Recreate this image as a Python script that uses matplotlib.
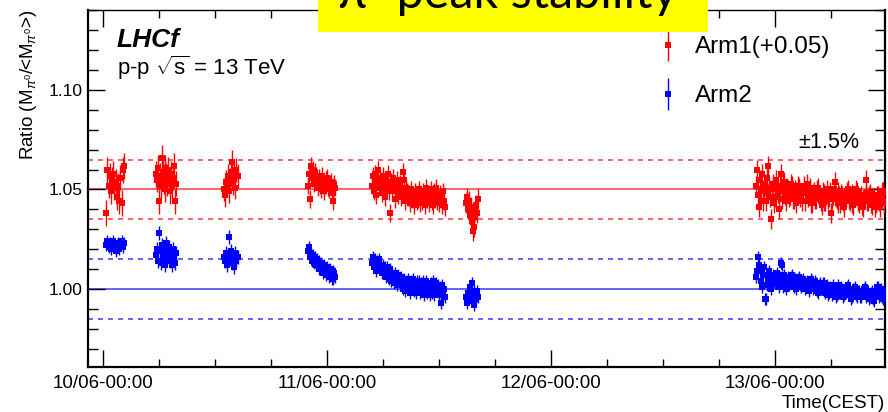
#!/usr/bin/env python
"""Stability of the reconstructed pi0 mass peak over the 13 TeV p-p run.

Each point is the fitted pi0 peak mass of one run divided by the mean over the
whole period. Arm1 is shifted by +0.05 so that both arms share one panel; the
solid lines are the nominal ratio and the dashed lines the +-1.5% band.
"""

from __future__ import annotations

import matplotlib

matplotlib.use("Agg")
import matplotlib.dates as mdates  # noqa: E402
import matplotlib.pyplot as plt  # noqa: E402
import numpy as np  # noqa: E402
from matplotlib.legend_handler import HandlerTuple  # noqa: E402
from matplotlib.lines import Line2D  # noqa: E402
from matplotlib.patches import Rectangle  # noqa: E402
from matplotlib.ticker import FormatStrFormatter, MultipleLocator  # noqa: E402

RUN_START = np.datetime64("2015-06-10T00:00")

# Hours since 10/06 00:00 (CEST), one list per LHC fill.
fill_hours = [
    [0.3, 0.45, 0.6, 0.75, 0.9, 1.0, 1.1, 1.2, 1.35, 1.5, 1.6, 1.7, 1.85, 2.0, 2.15, 2.3],
    [5.7, 5.8, 5.9, 6.0, 6.1, 6.2, 6.3, 6.4, 6.5, 6.6, 6.7, 6.8, 6.9, 7.0, 7.1, 7.2,
     7.3, 7.4, 7.5, 7.6, 7.7, 7.8],
    [13.0, 13.1, 13.2, 13.3, 13.4, 13.5, 13.6, 13.7, 13.8, 13.9, 14.0, 14.1, 14.3, 14.5],
    [22.0, 22.1, 22.2, 22.3, 22.4, 22.5, 22.6, 22.7, 22.8, 22.9,
     23.0, 23.1, 23.2, 23.3, 23.4, 23.5, 23.6, 23.7, 23.8, 23.9,
     24.0, 24.1, 24.2, 24.3, 24.4, 24.5, 24.6, 24.7, 24.8, 24.9],
    [28.8, 28.9, 29.0, 29.1, 29.2, 29.3, 29.4, 29.5, 29.6, 29.7,
     29.8, 29.9, 30.0, 30.1, 30.2, 30.3, 30.4, 30.5, 30.6, 30.7,
     30.8, 30.9, 31.0, 31.1, 31.2, 31.3, 31.4, 31.5, 31.6, 31.7,
     31.8, 31.9, 32.0, 32.1, 32.2, 32.3, 32.4, 32.5, 32.6, 32.7,
     32.8, 32.9, 33.0, 33.1, 33.2, 33.3, 33.4, 33.5, 33.6, 33.7,
     33.8, 33.9, 34.0, 34.1, 34.2, 34.3, 34.4, 34.5, 34.6, 34.7,
     34.8, 34.9, 35.0, 35.1, 35.2, 35.3, 35.4, 35.5, 35.6, 35.7,
     35.8, 35.9, 36.0, 36.1, 36.2, 36.3, 36.4, 36.5, 36.6],
    [38.9, 39.0, 39.1, 39.2, 39.3, 39.4, 39.5, 39.6, 39.7, 39.8, 39.9, 40.0, 40.1, 40.2],
    [70.0, 70.1, 70.2, 70.3, 70.4, 70.5, 70.6, 70.7, 70.8, 70.9,
     71.0, 71.1, 71.2, 71.3, 71.4, 71.5, 71.6, 71.7, 71.8, 71.9,
     72.0, 72.1, 72.2, 72.3, 72.4, 72.5, 72.6, 72.7, 72.8, 72.9,
     73.0, 73.1, 73.2, 73.3, 73.4, 73.5, 73.6, 73.7, 73.8, 73.9,
     74.0, 74.1, 74.2, 74.3, 74.4, 74.5, 74.6, 74.7, 74.8, 74.9,
     75.0, 75.1, 75.2, 75.3, 75.4, 75.5, 75.6, 75.7, 75.8, 75.9,
     76.0, 76.1, 76.2, 76.3, 76.4, 76.5, 76.6, 76.7, 76.8, 76.9,
     77.0, 77.1, 77.2, 77.3, 77.4, 77.5, 77.6, 77.7, 77.8, 77.9,
     78.0, 78.1, 78.2, 78.3, 78.4, 78.5, 78.6, 78.7, 78.8, 78.9,
     79.0, 79.1, 79.2, 79.3, 79.4, 79.5, 79.6, 79.7, 79.8, 79.9,
     80.0, 80.1, 80.2, 80.3, 80.4, 80.5, 80.6, 80.7, 80.8, 80.9,
     81.0, 81.1, 81.2, 81.3, 81.4, 81.5, 81.6, 81.7, 81.8, 81.9,
     82.0, 82.1, 82.2, 82.3, 82.4, 82.5, 82.6, 82.7, 82.8, 82.9,
     83.0, 83.1, 83.2, 83.3, 83.4, 83.5, 83.6, 83.7, 83.8, 83.9],
]

# Arm1 ratio, already shifted by +0.05.
arm1_ratio = [
    [1.038, 1.060, 1.052, 1.057, 1.049, 1.055, 1.058, 1.051, 1.054, 1.046, 1.052, 1.044,
     1.056, 1.043, 1.060, 1.062],
    [1.058, 1.055, 1.061, 1.044, 1.057, 1.052, 1.066, 1.059, 1.054, 1.061, 1.050, 1.057,
     1.053, 1.060, 1.055, 1.049, 1.058, 1.052, 1.056, 1.062, 1.044, 1.053],
    [1.050, 1.047, 1.054, 1.052, 1.057, 1.049, 1.055, 1.059, 1.064, 1.053, 1.058, 1.051,
     1.060, 1.057],
    [1.052, 1.058, 1.045, 1.062, 1.056, 1.060, 1.053, 1.059, 1.057, 1.054,
     1.051, 1.056, 1.055, 1.052, 1.050, 1.057, 1.054, 1.049, 1.052, 1.055,
     1.056, 1.051, 1.050, 1.053, 1.054, 1.049, 1.048, 1.044, 1.053, 1.051],
    [1.052, 1.057, 1.049, 1.054, 1.058, 1.047, 1.055, 1.060, 1.051, 1.056,
     1.053, 1.048, 1.057, 1.050, 1.046, 1.055, 1.052, 1.058, 1.049, 1.053,
     1.038, 1.054, 1.049, 1.056, 1.052, 1.045, 1.050, 1.055, 1.047, 1.052,
     1.053, 1.046, 1.050, 1.059, 1.048, 1.055, 1.044, 1.051, 1.049, 1.046,
     1.048, 1.043, 1.050, 1.045, 1.047, 1.042, 1.049, 1.046, 1.044, 1.048,
     1.045, 1.050, 1.043, 1.047, 1.044, 1.049, 1.046, 1.042, 1.051, 1.045,
     1.048, 1.043, 1.046, 1.050, 1.044, 1.047, 1.042, 1.049, 1.045, 1.051,
     1.044, 1.047, 1.043, 1.048, 1.045, 1.042, 1.049, 1.044, 1.041],
    [1.043, 1.046, 1.040, 1.044, 1.037, 1.041, 1.034, 1.029, 1.036, 1.031, 1.039, 1.042,
     1.038, 1.045],
    [1.052, 1.060, 1.047, 1.041, 1.055, 1.050, 1.058, 1.044, 1.049, 1.053,
     1.044, 1.056, 1.062, 1.048, 1.051, 1.046, 1.035, 1.050, 1.053, 1.043,
     1.046, 1.055, 1.051, 1.048, 1.040, 1.052, 1.058, 1.045, 1.049, 1.054,
     1.054, 1.047, 1.044, 1.051, 1.050, 1.046, 1.047, 1.053, 1.052, 1.045,
     1.045, 1.050, 1.049, 1.043, 1.047, 1.052, 1.051, 1.046, 1.048, 1.044,
     1.048, 1.052, 1.044, 1.049, 1.053, 1.046, 1.047, 1.051, 1.050, 1.043,
     1.043, 1.048, 1.049, 1.045, 1.045, 1.050, 1.051, 1.047, 1.046, 1.044,
     1.042, 1.049, 1.048, 1.044, 1.044, 1.047, 1.050, 1.045, 1.046, 1.049,
     1.038, 1.045, 1.047, 1.050, 1.054, 1.046, 1.045, 1.043, 1.049, 1.047,
     1.043, 1.048, 1.047, 1.044, 1.041, 1.046, 1.046, 1.049, 1.050, 1.045,
     1.044, 1.047, 1.048, 1.043, 1.042, 1.046, 1.046, 1.050, 1.049, 1.044,
     1.043, 1.046, 1.047, 1.042, 1.041, 1.045, 1.045, 1.048, 1.055, 1.044,
     1.044, 1.047, 1.048, 1.043, 1.042, 1.046, 1.046, 1.041, 1.043, 1.047,
     1.047, 1.044, 1.041, 1.046, 1.045, 1.049, 1.049, 1.043, 1.044, 1.048],
]

arm2_ratio = [
    [1.022, 1.024, 1.021, 1.023, 1.020, 1.022, 1.024, 1.021, 1.019, 1.022, 1.023, 1.020,
     1.022, 1.024, 1.021, 1.023],
    [1.017, 1.020, 1.014, 1.028, 1.019, 1.013, 1.022, 1.016, 1.021, 1.012, 1.018, 1.023,
     1.015, 1.019, 1.021, 1.014, 1.017, 1.012, 1.020, 1.016, 1.013, 1.018],
    [1.016, 1.014, 1.018, 1.012, 1.017, 1.026, 1.015, 1.019, 1.013, 1.016, 1.011, 1.018,
     1.014, 1.016],
    [1.019, 1.021, 1.016, 1.018, 1.014, 1.017, 1.013, 1.016, 1.012, 1.015,
     1.013, 1.010, 1.014, 1.010, 1.013, 1.011, 1.008, 1.012, 1.010, 1.007,
     1.011, 1.009, 1.006, 1.010, 1.008, 1.005, 1.009, 1.005, 1.008, 1.006],
    [1.013, 1.016, 1.011, 1.015, 1.012, 1.009, 1.014, 1.011, 1.015, 1.010,
     1.012, 1.008, 1.012, 1.008, 1.011, 1.006, 1.011, 1.008, 1.005, 1.010,
     1.007, 1.004, 1.008, 1.006, 1.003, 1.008, 1.005, 1.002, 1.007, 1.004,
     1.002, 1.006, 1.003, 1.000, 1.005, 1.002, 0.999, 1.004, 1.001, 1.005,
     1.002, 0.998, 1.004, 1.001, 1.005, 0.999, 1.003, 0.998, 1.004, 1.001,
     1.000, 1.004, 0.998, 1.003, 1.000, 1.004, 0.997, 1.001, 1.004, 0.998,
     1.002, 1.000, 0.997, 1.003, 0.998, 1.001, 1.004, 0.997, 1.000, 1.003,
     0.999, 1.002, 0.997, 1.001, 0.993, 1.002, 0.997, 1.000, 0.996],
    [0.996, 0.993, 0.998, 0.995, 1.001, 0.997, 1.003, 0.994, 0.999, 0.992, 0.997, 0.995,
     0.999, 0.996],
    [1.006, 1.009, 1.016, 1.012, 1.009, 1.004, 1.001, 1.007, 1.011, 0.995,
     0.995, 1.002, 1.004, 1.007, 1.009, 1.005, 1.000, 1.003, 1.007, 1.004,
     1.003, 1.006, 1.008, 1.004, 1.001, 1.006, 1.013, 1.012, 1.004, 1.001,
     1.007, 1.004, 1.000, 1.003, 1.006, 1.002, 1.003, 1.006, 1.007, 1.003,
     1.001, 1.005, 1.004, 1.000, 1.003, 1.005, 1.006, 1.002, 1.001, 1.004,
     1.005, 1.002, 1.000, 1.003, 1.004, 1.001, 0.999, 1.003, 1.002, 1.005,
     1.004, 1.000, 1.001, 1.004, 1.003, 0.999, 0.998, 1.002, 1.003, 1.000,
     1.000, 1.003, 1.003, 0.999, 0.998, 1.001, 1.002, 0.997, 0.998, 1.001,
     1.000, 0.997, 1.002, 1.000, 0.998, 0.996, 0.997, 1.000, 1.002, 0.998,
     0.998, 1.001, 1.000, 0.996, 0.997, 0.999, 0.998, 1.001, 1.002, 0.997,
     0.998, 0.995, 0.996, 0.999, 1.000, 1.000, 1.001, 0.997, 0.996, 0.999,
     0.999, 0.996, 0.996, 0.998, 0.999, 1.000, 1.001, 0.997, 0.996, 0.999,
     0.999, 0.995, 0.996, 0.998, 0.999, 0.995, 0.994, 0.998, 0.998, 1.001,
     1.001, 0.996, 0.997, 0.999, 1.000, 0.996, 0.995, 0.998, 0.999, 0.997],
]

# Typical statistical error of the peak position in each fill.
arm1_err = [0.0065, 0.0065, 0.006, 0.0045, 0.0045, 0.005, 0.005]
arm2_err = [0.003, 0.0035, 0.0035, 0.003, 0.003, 0.003, 0.003]

arm1_ref = 1.05
arm2_ref = 1.00
band = 0.015

ARM1_COLOR = "#ff0000"
ARM2_COLOR = "#0000ff"


def to_time(hours):
    """Hours since the start of 10/06 -> datetime64 (minute resolution)."""
    minutes = np.round(np.asarray(hours) * 60).astype(int)
    return RUN_START + minutes.astype("timedelta64[m]")


def draw_arm(ax, ratios, errors, color):
    for hours, ratio, err in zip(fill_hours, ratios, errors):
        ax.errorbar(
            to_time(hours),
            ratio,
            yerr=err,
            fmt="s",
            ms=4.4,
            mew=0,
            color=color,
            ecolor=color,
            elinewidth=1.0,
            capsize=2.4,
            capthick=1.0,
            zorder=3,
        )


def main() -> int:
    plt.rcParams["font.family"] = ["Liberation Sans", "DejaVu Sans"]
    plt.rcParams["mathtext.fontset"] = "custom"
    plt.rcParams["mathtext.rm"] = "Liberation Sans"
    plt.rcParams["mathtext.it"] = "Liberation Sans:italic"
    plt.rcParams["mathtext.bf"] = "Liberation Sans:bold"

    fig = plt.figure(figsize=(8.88, 4.12), dpi=100)
    ax = fig.add_axes([88 / 888, 1 - 367 / 412, 797 / 888, 357 / 412])

    # nominal ratio and the +-1.5% band for each arm
    for ref, color in ((arm1_ref, "#ff4a4a"), (arm2_ref, "#4a4aff")):
        ax.axhline(ref, color=color, lw=1.2, zorder=1)
        for off in (-band, band):
            ax.axhline(ref + off, color=color, lw=1.2, ls=(0, (3, 3)), zorder=1)

    draw_arm(ax, arm1_ratio, arm1_err, ARM1_COLOR)
    draw_arm(ax, arm2_ratio, arm2_err, ARM2_COLOR)

    ax.set_ylim(0.961, 1.14)
    ax.set_xlim(RUN_START - np.timedelta64(96, "m"), RUN_START + np.timedelta64(83 * 60 + 47, "m"))

    ax.yaxis.set_major_locator(MultipleLocator(0.05))
    ax.yaxis.set_minor_locator(MultipleLocator(0.01))
    ax.yaxis.set_major_formatter(FormatStrFormatter("%.2f"))
    ax.xaxis.set_major_locator(mdates.HourLocator(byhour=[0]))
    ax.xaxis.set_minor_locator(mdates.HourLocator(byhour=[6, 12, 18]))
    ax.xaxis.set_major_formatter(mdates.DateFormatter("%d/%m-%H:%M"))

    ax.tick_params(which="both", direction="in", top=True, right=True, width=1.0)
    ax.tick_params(axis="x", which="major", length=12, pad=6, labelsize=13.5)
    ax.tick_params(axis="x", which="minor", length=6)
    ax.tick_params(axis="y", which="major", length=12.5, pad=4, labelsize=12.5)
    ax.tick_params(axis="y", which="minor", length=7)
    for side, lw in (("left", 1.6), ("bottom", 1.6), ("right", 1.6), ("top", 1.0)):
        ax.spines[side].set_linewidth(lw)

    ax.set_ylabel(r"Ratio (M$_{\pi^{0}}$/<M$_{\pi^{0}}$>)", loc="top", fontsize=13.5, labelpad=7)
    ax.set_xlabel("Time(CEST)", loc="right", fontsize=13.5, labelpad=2)

    ax.text(0.036, 0.915, "LHCf", transform=ax.transAxes, fontsize=19,
            fontweight="bold", fontstyle="italic", va="center")
    ax.text(0.036, 0.838, r"p-p $\sqrt{\mathrm{s}}$ = 13 TeV", transform=ax.transAxes,
            fontsize=16, va="center")
    ax.text(0.891, 0.630, r"$\pm$1.5%", transform=ax.transAxes, fontsize=15.5, va="center")

    handles = [
        (Line2D([], [], color=c, marker="|", ms=23, mew=1.0, ls="none"),
         Line2D([], [], color=c, marker="s", ms=4.4, mew=0, ls="none"))
        for c in (ARM1_COLOR, ARM2_COLOR)
    ]
    ax.legend(
        handles,
        ["Arm1(+0.05)", "Arm2"],
        handler_map={tuple: HandlerTuple(ndivide=1)},
        loc="upper left",
        bbox_to_anchor=(656 / 888, 1 - 36 / 412),
        bbox_transform=fig.transFigure,
        frameon=False,
        fontsize=17.5,
        handlelength=1.0,
        handletextpad=0.6,
        labelspacing=1.12,
        borderpad=0,
        borderaxespad=0,
    )

    # slide title banner, running off the top edge
    fig.add_artist(Rectangle((318 / 888, 1 - 32 / 412), 390 / 888, 40 / 412,
                             transform=fig.transFigure, facecolor="#ffff00",
                             edgecolor="none", zorder=5))
    fig.text(338 / 888, 1 - 8.5 / 412, "π⁰ peak stability", fontsize=35,
             family=["Lato", "DejaVu Sans"], va="baseline", ha="left", zorder=6)

    fig.savefig("out.png", dpi=100)
    plt.close(fig)
    return 0


if __name__ == "__main__":
    raise SystemExit(main())
